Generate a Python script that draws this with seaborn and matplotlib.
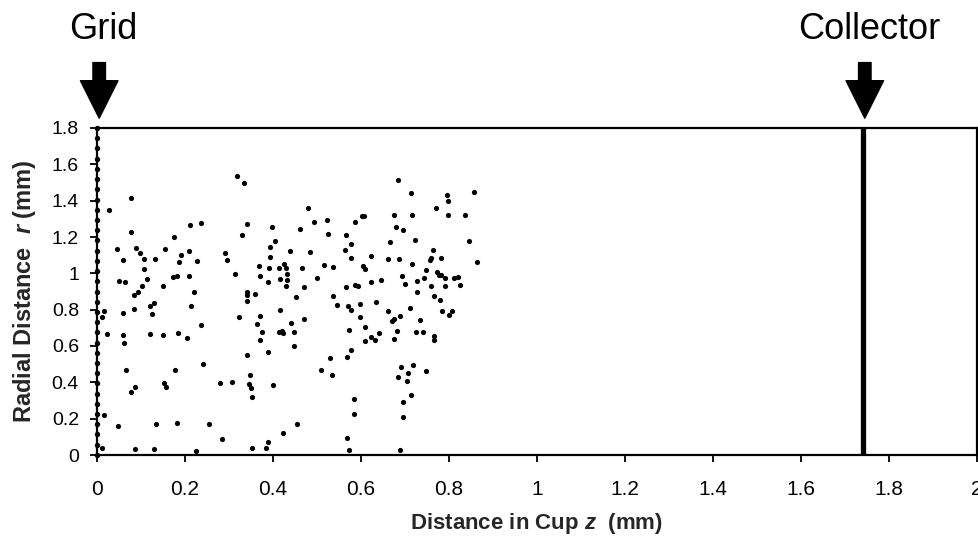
import matplotlib
matplotlib.use("Agg")
import matplotlib.pyplot as plt
import matplotlib.transforms as mtransforms
from matplotlib.ticker import FuncFormatter
import seaborn as sns
import pandas as pd

# ---- data ----
grid_z = 0.0
grid_r = [0, 0.056, 0.113, 0.169, 0.225, 0.281, 0.338, 0.394, 0.45, 0.506, 0.563,
          0.619, 0.675, 0.731, 0.788, 0.844, 0.9, 0.956, 1.013, 1.069, 1.125, 1.181,
          1.238, 1.294, 1.35, 1.406, 1.463, 1.519, 1.575, 1.631, 1.688, 1.744, 1.8]

z_points = [
    0.028, 0.078, 0.077, 0.046, 0.058, 0.051, 0.063, 0.084, 0.094, 0.089, 0.098, 0.106,
    0.106, 0.113, 0.103, 0.131, 0.150, 0.154, 0.176, 0.186, 0.191, 0.208, 0.227, 0.211,
    0.236, 0.172, 0.182, 0.208, 0.220, 0.319, 0.335, 0.342, 0.330, 0.292, 0.295, 0.314,
    0.340, 0.358, 0.369, 0.370, 0.389, 0.392, 0.393, 0.394, 0.404, 0.398, 0.413, 0.424,
    0.430, 0.431, 0.432, 0.430, 0.415, 0.439, 0.465, 0.453, 0.470, 0.461, 0.480, 0.494,
    0.484, 0.499, 0.516, 0.522, 0.526,
    0.683, 0.714, 0.796, 0.797, 0.857, 0.770, 0.797, 0.836, 0.717, 0.674, 0.602, 0.607,
    0.586, 0.679, 0.695, 0.567, 0.722, 0.577, 0.665, 0.564, 0.764, 0.577, 0.622, 0.661,
    0.687, 0.758, 0.756, 0.781, 0.863, 0.846, 0.537, 0.605, 0.608, 0.715, 0.747, 0.773,
    0.778, 0.781, 0.694, 0.743, 0.791, 0.811, 0.821, 0.622, 0.646, 0.727, 0.701, 0.826,
    0.792, 0.759, 0.565, 0.587, 0.594, 0.728, 0.765, 0.536,
    0.780, 0.546, 0.570, 0.577, 0.598, 0.634, 0.661, 0.712, 0.689, 0.674, 0.670, 0.785,
    0.807, 0.801, 0.598, 0.733, 0.608, 0.573, 0.640, 0.681, 0.622, 0.631, 0.608, 0.675,
    0.724, 0.742, 0.766, 0.766, 0.577, 0.530, 0.568, 0.509, 0.533, 0.692, 0.719, 0.748,
    0.683, 0.706, 0.705, 0.713, 0.696, 0.584, 0.585, 0.695, 0.568, 0.573, 0.689,
    0.341, 0.340, 0.017, 0.011, 0.058, 0.083, 0.120, 0.130, 0.126, 0.214, 0.236, 0.322,
    0.371, 0.364, 0.374, 0.370, 0.388, 0.341, 0.417, 0.440, 0.470, 0.413, 0.420, 0.423,
    0.448, 0.448, 0.023, 0.058, 0.062, 0.120, 0.150, 0.183, 0.205, 0.242, 0.067, 0.177,
    0.077, 0.087, 0.153, 0.157, 0.280, 0.306, 0.347, 0.345, 0.349, 0.352, 0.399, 0.015,
    0.048, 0.134, 0.182, 0.254, 0.284, 0.454, 0.423, 0.388, 0.353, 0.383, 0.011, 0.087,
    0.130, 0.224,
]
r_points = [
    1.350, 1.417, 1.225, 1.136, 1.074, 0.956, 0.952, 0.882, 0.900, 1.138, 1.114, 1.081,
    1.025, 0.968, 0.932, 1.081, 0.930, 1.136, 1.198, 1.061, 1.100, 1.125, 1.068, 1.265,
    1.276, 0.979, 0.985, 0.986, 0.895, 1.535, 1.500, 1.273, 1.213, 1.110, 1.071, 0.999,
    0.897, 0.888, 1.041, 0.983, 0.950, 1.032, 1.092, 1.143, 1.178, 1.253, 1.032, 1.054,
    1.032, 0.997, 0.963, 0.932, 0.968, 1.121, 1.027, 0.870, 0.926, 1.242, 1.358, 1.280,
    1.116, 0.977, 1.046, 1.294, 1.215,
    1.512, 1.444, 1.433, 1.400, 1.448, 1.360, 1.320, 1.320, 1.320, 1.320, 1.318, 1.315,
    1.282, 1.256, 1.240, 1.213, 1.183, 1.163, 1.172, 1.129, 1.129, 1.087, 1.098, 1.078,
    1.078, 1.083, 1.071, 1.087, 1.063, 1.176, 1.034, 1.041, 1.023, 1.054, 1.018, 1.005,
    0.992, 0.992, 0.988, 0.972, 0.972, 0.972, 0.979, 0.952, 0.961, 0.956, 0.941, 0.935,
    0.928, 0.928, 0.923, 0.934, 0.928, 0.895, 0.877, 0.874,
    0.852, 0.828, 0.819, 0.799, 0.833, 0.844, 0.792, 0.808, 0.764, 0.746, 0.735, 0.792,
    0.795, 0.770, 0.760, 0.742, 0.706, 0.688, 0.671, 0.680, 0.649, 0.633, 0.627, 0.640,
    0.675, 0.677, 0.656, 0.635, 0.580, 0.534, 0.542, 0.467, 0.438, 0.485, 0.496, 0.463,
    0.432, 0.450, 0.410, 0.332, 0.294, 0.306, 0.228, 0.208, 0.093, 0.027, 0.029,
    0.882, 0.850, 0.793, 0.759, 0.782, 0.806, 0.819, 0.835, 0.778, 0.819, 0.717, 0.757,
    0.766, 0.720, 0.677, 0.631, 0.569, 0.551, 0.797, 0.724, 0.748, 0.675, 0.682, 0.669,
    0.675, 0.600, 0.667, 0.660, 0.614, 0.666, 0.658, 0.671, 0.642, 0.503, 0.469, 0.469,
    0.345, 0.377, 0.394, 0.377, 0.398, 0.403, 0.439, 0.392, 0.367, 0.321, 0.383, 0.219,
    0.160, 0.173, 0.177, 0.171, 0.089, 0.170, 0.119, 0.069, 0.040, 0.040, 0.040, 0.031,
    0.033, 0.024,
]

collector_z = 1.74
x_ticks = [0, 0.2, 0.4, 0.6, 0.8, 1, 1.2, 1.4, 1.6, 1.8, 2]
y_ticks = [0, 0.2, 0.4, 0.6, 0.8, 1, 1.2, 1.4, 1.6, 1.8]
x_label = "Distance in Cup $z$  (mm)"
y_label = "Radial Distance  $r$ (mm)"

# ---- style ----
sns.set_style("ticks")
plt.rcParams["font.family"] = ["Liberation Sans", "DejaVu Sans"]
plt.rcParams["mathtext.fontset"] = "custom"
plt.rcParams["mathtext.it"] = "Liberation Sans:bold:italic"
plt.rcParams["mathtext.rm"] = "Liberation Sans:bold"

fig = plt.figure(figsize=(9.79, 5.38), dpi=100)
ax = fig.add_axes([97 / 979, (538 - 455) / 538, 880 / 979, 327 / 538])

df_pts = pd.DataFrame({"z": z_points, "r": r_points})
df_grid = pd.DataFrame({"z": [grid_z] * len(grid_r), "r": grid_r})

sns.scatterplot(data=df_grid, x="z", y="r", ax=ax, color="black", s=15,
                linewidth=0, clip_on=False, zorder=4)
sns.scatterplot(data=df_pts, x="z", y="r", ax=ax, color="black", s=14,
                linewidth=0, clip_on=False, zorder=4)

ax.axvline(collector_z, color="black", linewidth=3.8, zorder=3)

ax.set_xlim(0, 2)
ax.set_ylim(0, 1.8)
ax.set_xticks(x_ticks)
ax.set_yticks(y_ticks)
fmt = FuncFormatter(lambda v, p: f"{v:g}")
ax.xaxis.set_major_formatter(fmt)
ax.yaxis.set_major_formatter(fmt)

for sp in ax.spines.values():
    sp.set_visible(True)
    sp.set_linewidth(1.6)
    sp.set_color("black")

ax.tick_params(axis="x", direction="out", length=5, width=1.3, pad=13,
               labelsize=15, colors="black")
ax.tick_params(axis="y", direction="out", length=5, width=1.3, pad=8,
               labelsize=14, colors="black")

ax.set_xlabel(x_label, fontsize=16, fontweight="bold", labelpad=9)
ax.set_ylabel(y_label, fontsize=17, fontweight="bold", labelpad=10)

# ---- arrows and labels above the plot ----
trans = mtransforms.blended_transform_factory(ax.transData, ax.transAxes)
arrow_style = "simple,head_width=27,head_length=27,tail_width=9"
for zpos, label in [(grid_z, "Grid"), (collector_z, "Collector")]:
    ax.annotate("", xy=(zpos + 0.005, 1.03), xycoords=trans,
                xytext=(zpos + 0.005, 1.20), textcoords=trans,
                arrowprops=dict(arrowstyle=arrow_style, mutation_scale=1,
                                fc="black", ec="black", shrinkA=0, shrinkB=0),
                annotation_clip=False)
    ax.text(zpos + 0.015, 1.30, label, transform=trans, ha="center", va="center",
            fontsize=26, color="black")

fig.savefig("out.png", dpi=100)
